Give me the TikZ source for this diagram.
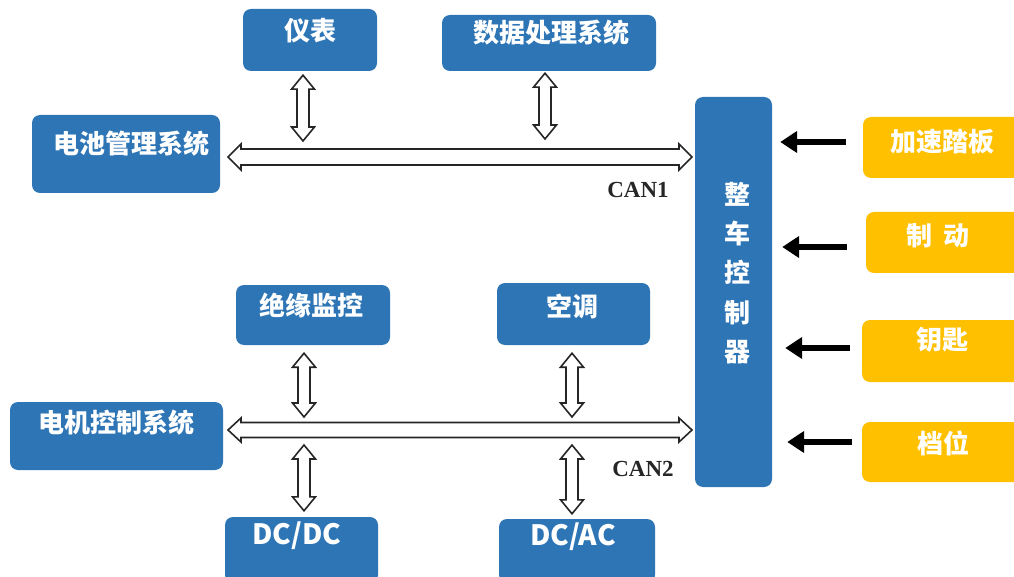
\documentclass[tikz,border=0pt]{standalone}
\usepackage{fontspec}
\newfontfamily\cjk{Noto Sans CJK SC}
\newfontfamily\canfont{Liberation Serif}
\usetikzlibrary{arrows.meta,calc}
\definecolor{boxblue}{HTML}{2E75B6}
\definecolor{boxyellow}{HTML}{FFC000}
\tikzset{
  bluebox/.style={fill=boxblue, draw=none, rounded corners=8pt, inner sep=0pt},
  yellowbox/.style={fill=boxyellow, draw=none, rounded corners=8pt, inner sep=0pt},
  lbl/.style={text=white, font=\cjk\bfseries\fontsize{26}{30}\selectfont, inner sep=0pt},
  latinlbl/.style={text=white, font=\cjk\bfseries\fontsize{28}{32}\selectfont, inner sep=0pt},
  canlbl/.style={text=black!85, font=\canfont\bfseries\fontsize{23}{26}\selectfont, inner sep=0pt},
  hol/.style={draw=black!85, fill=white, line width=1.6pt, line join=miter},
  blk/.style={draw=black, line width=6.5pt, -{Triangle[length=17pt,width=21pt]}},
}
% vertical hollow double arrow: #1 top, #2 bottom, #3 shaft half, #4 head half, #5 head length
\newcommand\vhollow[5]{\draw[hol] (#1) -- ($(#1)+(#4,#5)$) -- ($(#1)+(#3,#5)$) -- ($(#2)+(#3,-#5)$) -- ($(#2)+(#4,-#5)$) -- (#2) -- ($(#2)+(-#4,-#5)$) -- ($(#2)+(-#3,-#5)$) -- ($(#1)+(-#3,#5)$) -- ($(#1)+(-#4,#5)$) -- cycle;}
% horizontal hollow double arrow: #1 left, #2 right
\newcommand\hhollow[5]{\draw[hol] (#1) -- ($(#1)+(#5,#4)$) -- ($(#1)+(#5,#3)$) -- ($(#2)+(-#5,#3)$) -- ($(#2)+(-#5,#4)$) -- (#2) -- ($(#2)+(-#5,-#4)$) -- ($(#2)+(-#5,-#3)$) -- ($(#1)+(#5,-#3)$) -- ($(#1)+(#5,-#4)$) -- cycle;}
\begin{document}
\begin{tikzpicture}[x=1pt,y=-1pt]
\useasboundingbox (0,0) rectangle (1014,577);
\clip (0,0) rectangle (1014,577);
% blue boxes
\node[bluebox, minimum width=134pt, minimum height=62pt] (yb) at (310,40) {};
\node[lbl] (yb-t) at (310,31) {仪表};
\node[bluebox, minimum width=214pt, minimum height=56pt] (sj) at (549,43) {};
\node[lbl] (sj-t) at (551,33) {数据处理系统};
\node[bluebox, minimum width=188pt, minimum height=78pt] (bms) at (126,154) {};
\node[lbl] (bms-t) at (131,144) {电池管理系统};
\node[bluebox, minimum width=154pt, minimum height=60pt] (jy) at (313,315) {};
\node[lbl] (jy-t) at (311,306) {绝缘监控};
\node[bluebox, minimum width=153pt, minimum height=62pt] (kt) at (573.5,314) {};
\node[lbl] (kt-t) at (572,306) {空调};
\node[bluebox, minimum width=213pt, minimum height=68pt] (mcs) at (116.5,436) {};
\node[lbl] (mcs-t) at (116,423) {电机控制系统};
\node[bluebox, minimum width=153pt, minimum height=66pt] (dcdc) at (301.5,550) {};
\node[latinlbl] (dcdc-t) at (297,536) {DC/DC};
\node[bluebox, minimum width=156pt, minimum height=64pt] (dcac) at (577,551) {};
\node[latinlbl] (dcac-t) at (573,537) {DC/AC};
\node[bluebox, minimum width=77pt, minimum height=390pt] (vcu) at (733.5,292) {};
\node[lbl, align=center, font=\cjk\bfseries\fontsize{26}{39.2}\selectfont] (vcu-t) at (737,273) {整\\车\\控\\制\\器};
% yellow boxes
\node[yellowbox, minimum width=160pt, minimum height=61pt] (ac) at (943,147.5) {};
\node[lbl] (ac-t) at (942,142) {加速踏板};
\node[yellowbox, minimum width=158pt, minimum height=61pt] (zd) at (945,242.5) {};
\node[lbl] (zd-t) at (938,236) {制\hspace{12pt}动};
\node[yellowbox, minimum width=162pt, minimum height=62pt] (ys) at (943,351) {};
\node[lbl] (ys-t) at (942,340) {钥匙};
\node[yellowbox, minimum width=162pt, minimum height=60pt] (dw) at (943,452) {};
\node[lbl] (dw-t) at (943,443) {档位};
% CAN labels
\node[canlbl] (can1) at (638,190) {CAN1};
\node[canlbl] (can2) at (643,469) {CAN2};
% bus coordinates
\coordinate (b1l) at (228,157);
\coordinate (b1r) at (692,157);
\coordinate (b2l) at (228,430);
\coordinate (b2r) at (692,430);
\hhollow{b1l}{b1r}{8}{13}{13}
\hhollow{b2l}{b2r}{7.5}{12}{13}
% vertical arrows
\coordinate (v1t) at ([yshift=-4pt]yb.south -| 303,0);
\coordinate (v1b) at ($(b1l -| 303,0)+(0,-16)$);
\coordinate (v2t) at ([yshift=-2pt]sj.south -| 545,0);
\coordinate (v2b) at ($(b1l -| 545,0)+(0,-18)$);
\vhollow{v1t}{v1b}{6}{11.5}{14}
\vhollow{v2t}{v2b}{6}{11.5}{14}
\coordinate (v3t) at ([yshift=-8pt]jy.south -| 304,0);
\coordinate (v3b) at ($(b2l -| 304,0)+(0,-13)$);
\coordinate (v4t) at ([yshift=-8pt]kt.south -| 572,0);
\coordinate (v4b) at ($(b2l -| 572,0)+(0,-13)$);
\vhollow{v3t}{v3b}{6}{11.5}{14}
\vhollow{v4t}{v4b}{6}{11.5}{14}
\coordinate (v5t) at ($(b2l -| 304,0)+(0,15)$);
\coordinate (v5b) at ([yshift=6pt]dcdc.north -| 304,0);
\coordinate (v6t) at ($(b2l -| 572,0)+(0,15)$);
\coordinate (v6b) at ([yshift=5pt]dcac.north -| 572,0);
\vhollow{v5t}{v5b}{6}{11.5}{14}
\vhollow{v6t}{v6b}{6}{11.5}{14}
% black input arrows
\coordinate (a1) at ([xshift=-17pt,yshift=5.5pt]ac.west);
\coordinate (a2) at ([xshift=-19pt,yshift=-4.5pt]zd.west);
\coordinate (a3) at ([xshift=-12pt,yshift=3pt]ys.west);
\coordinate (a4) at ([xshift=-10pt,yshift=10pt]dw.west);
\draw[blk, shorten >=8pt] (a1) -- (vcu.east |- a1);
\draw[blk, shorten >=10pt] (a2) -- (vcu.east |- a2);
\draw[blk, shorten >=13pt] (a3) -- (vcu.east |- a3);
\draw[blk, shorten >=15pt] (a4) -- (vcu.east |- a4);
\end{tikzpicture}
\end{document}
